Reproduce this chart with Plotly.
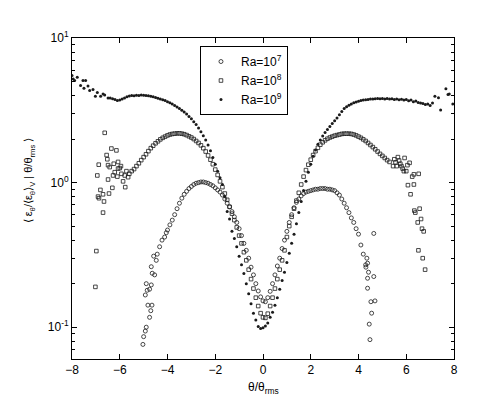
import numpy as np
import plotly.graph_objects as go

# ---- Ra = 1e9 (filled dots) ----
ra9_edge_x = [-8.0, -7.95, -7.89, -7.78, -7.64, -7.54, -7.5, -7.43, -7.33, -7.26,
              -7.12, -7.02, -6.94, -6.8, -6.7, -6.63, -6.49]
ra9_edge_y = [5.5, 5.2, 5.08, 5.35, 4.69, 5.08, 4.5, 5.08, 4.65, 4.33,
              4.4, 3.96, 4.2, 3.96, 4.1, 4.04, 3.84]
ra9_x = np.round(np.arange(-6.4, 7.001, 0.1), 2)
ra9_y = [3.85, 3.8, 3.75, 3.7, 3.72, 3.78, 3.85, 3.92, 3.97, 4.0,
         3.98, 4.02, 4.0, 4.04, 4.02, 4.0, 3.98, 3.95, 3.92, 3.88,
         3.83, 3.79, 3.74, 3.69, 3.63, 3.56, 3.49, 3.41, 3.33, 3.25,
         3.17, 3.08, 2.98, 2.87, 2.76, 2.64, 2.52, 2.39, 2.25, 2.11,
         1.97, 1.82, 1.66, 1.49, 1.34, 1.2, 1.08, 0.97, 0.8, 0.63,
         0.56, 0.46, 0.41, 0.36, 0.31, 0.27, 0.235, 0.2, 0.17, 0.145,
         0.125, 0.112, 0.101, 0.098, 0.099, 0.102, 0.107, 0.117, 0.127, 0.142,
         0.16, 0.183, 0.21, 0.24, 0.28, 0.325, 0.38, 0.44, 0.52, 0.62,
         0.74, 0.88, 1.02, 1.18, 1.34, 1.52, 1.68, 1.84, 1.97, 2.1,
         2.22, 2.33, 2.44, 2.56, 2.68, 2.8, 2.95, 3.1, 3.25, 3.35,
         3.43, 3.5, 3.56, 3.61, 3.65, 3.69, 3.72, 3.74, 3.76, 3.78,
         3.79, 3.8, 3.81, 3.8, 3.82, 3.79, 3.81, 3.78, 3.8, 3.76,
         3.79, 3.74, 3.77, 3.72, 3.75, 3.68, 3.72, 3.62, 3.66, 3.58,
         3.55, 3.52, 3.47, 3.5, 3.42]
ra9_tail_x = [7.1, 7.2, 7.35, 7.44, 7.66, 7.75, 7.8, 7.95]
ra9_tail_y = [3.55, 3.96, 3.86, 3.18, 4.45, 4.07, 4.1, 3.5]

# ---- Ra = 1e8 (open squares) ----
ra8_edge_x = [-7.02, -6.98, -6.94, -6.91, -6.88, -6.87, -6.81, -6.7, -6.7, -6.66,
              -6.63, -6.55, -6.52, -6.49, -6.49, -6.45, -6.42, -6.35, -6.31, -6.28,
              -6.25, -6.21, -6.14, -6.1, -6.07, -6.07, -6.0, -5.95, -5.93, -5.86,
              -5.79, -5.77, -5.72, -5.65]
ra8_edge_y = [0.19, 0.336, 1.12, 0.8, 1.33, 0.78, 0.89, 0.83, 0.62, 0.74,
              2.21, 1.55, 1.45, 1.05, 1.32, 0.84, 1.28, 1.72, 0.92, 1.12,
              1.35, 1.18, 1.67, 1.1, 1.39, 1.25, 1.26, 1.3, 1.15, 1.02,
              1.12, 0.93, 1.2, 1.09]
ra8_x = np.round(np.arange(-5.6, 5.301, 0.1), 2)
ra8_y = [1.15, 1.2, 1.24, 1.3, 1.36, 1.43, 1.5, 1.57, 1.65, 1.73,
         1.8, 1.87, 1.93, 1.99, 2.04, 2.08, 2.12, 2.15, 2.17, 2.18,
         2.19, 2.19, 2.18, 2.16, 2.13, 2.09, 2.05, 2.0, 1.94, 1.88,
         1.81, 1.73, 1.64, 1.54, 1.44, 1.34, 1.23, 1.13, 1.02, 0.93,
         0.84, 0.76, 0.68, 0.61, 0.55, 0.49, 0.43, 0.38, 0.33, 0.29,
         0.25, 0.215, 0.185, 0.16, 0.14, 0.125, 0.117, 0.116, 0.124, 0.14,
         0.16, 0.185, 0.215, 0.25, 0.29, 0.34, 0.42, 0.5, 0.58, 0.66,
         0.75, 0.85, 0.97, 1.1, 1.22, 1.33, 1.44, 1.55, 1.65, 1.74,
         1.83, 1.9, 1.96, 2.01, 2.05, 2.08, 2.11, 2.13, 2.15, 2.17,
         2.18, 2.18, 2.18, 2.17, 2.15, 2.12, 2.08, 2.04, 1.99, 1.94,
         1.88, 1.82, 1.76, 1.7, 1.64, 1.58, 1.53, 1.48, 1.43, 1.39]
ra8_tail_x = [5.45, 5.5, 5.55, 5.6, 5.65, 5.7, 5.75, 5.8, 5.85, 5.9,
              5.93, 6.0, 6.05, 6.07, 6.14, 6.18, 6.25, 6.32, 6.32, 6.34,
              6.38, 6.48, 6.51, 6.52, 6.56, 6.62, 6.66, 6.69, 6.73, 6.79]
ra8_tail_y = [1.3, 1.45, 1.38, 1.3, 1.5, 1.42, 1.35, 1.3, 1.25, 1.2,
              1.48, 1.2, 1.32, 0.96, 1.37, 0.83, 1.1, 1.14, 0.97, 0.64,
              0.62, 0.53, 0.34, 1.15, 0.66, 0.56, 0.48, 0.3, 0.46, 0.25]

# ---- Ra = 1e7 (open circles) ----
ra7_edge_x = [-5.03, -5.0, -4.93, -4.89, -4.75, -4.7, -4.65, -4.82, -4.93, -4.85,
              -4.75, -4.89, -4.68, -4.64, -4.54, -4.68, -4.58, -4.47, -4.43, -4.33,
              -4.23, -4.12, -4.05]
ra7_edge_y = [0.076, 0.086, 0.094, 0.1, 0.117, 0.13, 0.142, 0.142, 0.167, 0.18,
              0.183, 0.2, 0.196, 0.236, 0.23, 0.262, 0.31, 0.29, 0.32, 0.36,
              0.4, 0.42, 0.45]
ra7_x = np.round(np.arange(-4.0, 4.301, 0.1), 2)
ra7_y = [0.47, 0.51, 0.55, 0.6, 0.66, 0.72, 0.78, 0.83, 0.87, 0.91,
         0.94, 0.97, 0.99, 1.0, 1.01, 1.01, 1.0, 0.99, 0.97, 0.95,
         0.92, 0.89, 0.86, 0.82, 0.77, 0.72, 0.68, 0.63, 0.58, 0.53,
         0.48, 0.43, 0.38, 0.34, 0.3, 0.26, 0.23, 0.2, 0.178, 0.162,
         0.152, 0.15, 0.16, 0.177, 0.2, 0.23, 0.265, 0.3, 0.35, 0.4,
         0.46, 0.53, 0.6, 0.67, 0.73, 0.77, 0.81, 0.84, 0.86, 0.87,
         0.88, 0.89, 0.9, 0.9, 0.91, 0.91, 0.91, 0.9, 0.9, 0.89,
         0.88, 0.85, 0.82, 0.77, 0.72, 0.67, 0.62, 0.57, 0.53, 0.48,
         0.44, 0.37, 0.32, 0.27]
ra7_tail_x = [4.31, 4.35, 4.38, 4.38, 4.38, 4.42, 4.45, 4.48, 4.52, 4.55,
              4.64, 4.64, 4.69]
ra7_tail_y = [0.26, 0.3, 0.218, 0.186, 0.277, 0.24, 0.105, 0.082, 0.15, 0.125,
              0.445, 0.224, 0.152]

X_RANGE = [-8, 8]
Y_RANGE = [-1.22, 1.0]          # log10 units
x_ticks = [-8, -6, -4, -2, 0, 2, 4, 6, 8]
y_ticks = [0.1, 1, 10]
y_tick_text = ["10<sup>-1</sup>", "10<sup>0</sup>", "10<sup>1</sup>"]
y_minor = [0.07, 0.08, 0.09, 0.2, 0.3, 0.4, 0.5, 0.6, 0.7, 0.8, 0.9,
           2, 3, 4, 5, 6, 7, 8, 9]

INK = "#1a1a1a"
FONT = "Liberation Sans, Arial, sans-serif"

series = [
    ("Ra=10<sup>7</sup>", ra7_edge_x + list(ra7_x) + ra7_tail_x,
     ra7_edge_y + ra7_y + ra7_tail_y,
     dict(symbol="circle-open", size=4, color=INK, line=dict(width=0.8, color=INK))),
    ("Ra=10<sup>8</sup>", ra8_edge_x + list(ra8_x) + ra8_tail_x,
     ra8_edge_y + ra8_y + ra8_tail_y,
     dict(symbol="square-open", size=3.6, color=INK, line=dict(width=0.8, color=INK))),
    ("Ra=10<sup>9</sup>", ra9_edge_x + list(ra9_x) + ra9_tail_x,
     ra9_edge_y + ra9_y + ra9_tail_y,
     dict(symbol="circle", size=3, color=INK, line=dict(width=0))),
]

fig = go.Figure()
for name, xs, ys, marker in series:
    fig.add_trace(go.Scatter(x=xs, y=ys, mode="markers", name=name, marker=marker))

fig.update_layout(
    width=493, height=395,
    margin=dict(l=64, r=47, t=30, b=44),
    paper_bgcolor="white", plot_bgcolor="white",
    font=dict(family=FONT, size=12, color="black"),
    showlegend=True,
    legend=dict(
        x=0.335, y=0.975, xanchor="left", yanchor="top",
        bgcolor="white", bordercolor="black", borderwidth=1,
        font=dict(size=12), itemwidth=30,
    ),
    annotations=[
        dict(text="θ/θ<sub>rms</sub>", xref="paper", yref="paper",
             x=0.5, y=-0.058, xanchor="center", yanchor="top",
             showarrow=False, font=dict(size=12)),
        dict(text="⟨ ε<sub>θ</sub>/⟨ε<sub>θ</sub>⟩<sub>V</sub> | θ/θ<sub>rms</sub> ⟩",
             xref="paper", yref="paper", x=-0.113, y=0.556,
             xanchor="center", yanchor="middle", textangle=-90,
             showarrow=False, font=dict(size=11)),
    ],
)
fig.update_xaxes(
    range=X_RANGE, tickmode="array", tickvals=x_ticks,
    ticks="inside", ticklen=5, tickwidth=1, tickcolor="black",
    showline=True, linecolor="black", linewidth=1, mirror="allticks",
    showgrid=False, zeroline=False,
)
fig.update_yaxes(
    type="log", range=Y_RANGE, tickmode="array",
    tickvals=y_ticks, ticktext=y_tick_text,
    ticks="inside", ticklen=5, tickwidth=1, tickcolor="black",
    minor=dict(ticks="inside", ticklen=3, tickcolor="black", tickwidth=1,
               tickvals=y_minor, showgrid=False),
    showline=True, linecolor="black", linewidth=1, mirror="allticks",
    showgrid=False, zeroline=False,
)

fig.write_html("out.html")
